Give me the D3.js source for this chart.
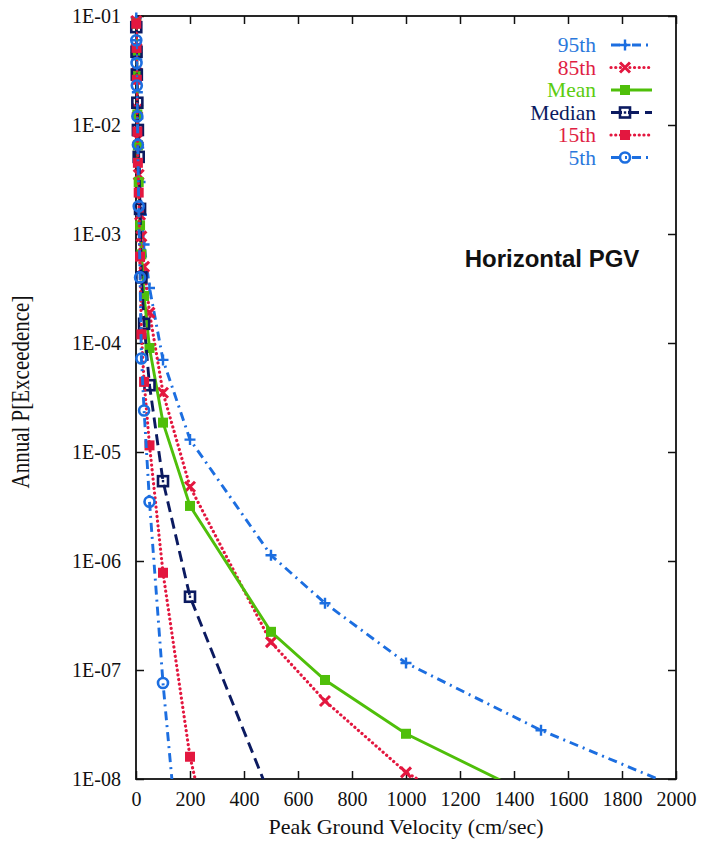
<!DOCTYPE html>
<html>
<head>
<meta charset="utf-8">
<script src="https://cdn.jsdelivr.net/npm/d3@7"></script>
<style>
  body { margin: 0; background: #fff; }
  svg { display: block; }
  .tick text { font-family: "Liberation Serif", "DejaVu Serif", serif; font-size: 20px; fill: #111; }
  .tick line { stroke: #111; stroke-width: 1.5; }
</style>
</head>
<body>
<div id="CHART"></div>
<script>
// PGV values (cm/sec) shared by every curve
const pgv = [1, 2, 3, 5, 7, 10, 15, 20, 30, 50, 100, 200, 500, 700, 1000, 1500, 2000];

// annual probability of exceedance
const p95    = [9.6e-2, 6.0e-2, 4.0e-2, 2.0e-2, 1.15e-2, 6.2e-3, 3.0e-3, 1.5e-3, 8.0e-4, 3.2e-4, 7.0e-5, 1.3e-5, 1.13e-6, 4.1e-7, 1.16e-7, 2.8e-8, 8.5e-9];
const p85    = [9.0e-2, 5.0e-2, 3.0e-2, 1.4e-2, 7.5e-3, 3.5e-3, 1.5e-3, 9.5e-4, 5.0e-4, 1.9e-4, 3.5e-5, 4.8e-6, 1.8e-7, 5.2e-8, 1.15e-8, 2.2e-9, 6.0e-10];
const pMean  = [8.5e-2, 4.8e-2, 2.8e-2, 1.25e-2, 6.5e-3, 3.0e-3, 1.2e-3, 6.5e-4, 2.7e-4, 9.0e-5, 1.86e-5, 3.2e-6, 2.24e-7, 8.1e-8, 2.6e-8, 6.4e-9, 2.5e-9];
const pMed   = [7.9e-2, 4.7e-2, 2.9e-2, 1.6e-2, 9.0e-3, 5.1e-3, 1.7e-3, 4.0e-4, 1.5e-4, 4.1e-5, 5.4e-6, 4.7e-7, 6.6e-9, 3.0e-10, 1.0e-11, 1.0e-12, 1.0e-13];
const p15    = [8.5e-2, 5.1e-2, 2.6e-2, 8.7e-3, 4.5e-3, 2.4e-3, 6.2e-4, 1.2e-4, 4.4e-5, 1.15e-5, 7.8e-7, 1.6e-8, 1.0e-11, 1.0e-12, 1.0e-13, 1.0e-14, 1.0e-15];
const p5     = [6.0e-2, 3.7e-2, 2.3e-2, 1.2e-2, 6.6e-3, 1.8e-3, 4.0e-4, 7.2e-5, 2.4e-5, 3.5e-6, 7.6e-8, 1.6e-10, 1.0e-13, 1.0e-14, 1.0e-15, 1.0e-16, 1.0e-17];

const seriesNames = ["95th", "85th", "Mean", "Median", "15th", "5th"];
const seriesVals  = [p95, p85, pMean, pMed, p15, p5];

const xTicks = [0, 200, 400, 600, 800, 1000, 1200, 1400, 1600, 1800, 2000];
const yTicks = [1e-8, 1e-7, 1e-6, 1e-5, 1e-4, 1e-3, 1e-2, 1e-1];

const styles = {
  "95th":   { color: "#1c6ee0", text: "#2a78dc", dash: "9,5,2,5", mark: "plus" },
  "85th":   { color: "#e3173f", text: "#e01e44", dash: "0.1,4.6", mark: "cross", cap: "round" },
  "Mean":   { color: "#4fbf0a", text: "#5ccc10", dash: null,      mark: "fsquare" },
  "Median": { color: "#0b1a60", text: "#0b1a60", dash: "11,6",    mark: "osquare" },
  "15th":   { color: "#e3173f", text: "#e01e44", dash: "0.1,4.6", mark: "fsquare", cap: "round" },
  "5th":    { color: "#1c6ee0", text: "#2a78dc", dash: "9,5,2,5", mark: "ocircle" }
};

const W = 702, H = 842;
const plot = { left: 136, right: 676, top: 16, bottom: 779 };

const svg = d3.select("#CHART").append("svg").attr("width", W).attr("height", H);

const x = d3.scaleLinear().domain([0, 2000]).range([plot.left, plot.right]);
const y = d3.scaleLog().domain([1e-8, 1e-1]).range([plot.bottom, plot.top]);

const fmtE = d => "1E-" + String(-Math.round(Math.log10(d))).padStart(2, "0");

// axes, ticks pointing inward
svg.append("g").attr("transform", `translate(0,${plot.bottom})`)
  .call(d3.axisBottom(x).tickValues(xTicks).tickSizeInner(-8).tickSizeOuter(0).tickPadding(13).tickFormat(d3.format("d")));
svg.append("g").attr("transform", `translate(0,${plot.top})`)
  .call(d3.axisTop(x).tickValues(xTicks).tickSizeInner(-8).tickSizeOuter(0).tickFormat(""));
svg.append("g").attr("transform", `translate(${plot.left},0)`)
  .call(d3.axisLeft(y).tickValues(yTicks).tickSizeInner(-8).tickSizeOuter(0).tickPadding(15).tickFormat(fmtE));
svg.append("g").attr("transform", `translate(${plot.right},0)`)
  .call(d3.axisRight(y).tickValues(yTicks).tickSizeInner(-8).tickSizeOuter(0).tickFormat(""));
svg.selectAll(".domain").remove();

svg.append("rect")
  .attr("x", plot.left).attr("y", plot.top)
  .attr("width", plot.right - plot.left).attr("height", plot.bottom - plot.top)
  .attr("fill", "none").attr("stroke", "#111").attr("stroke-width", 1.8);

// axis titles
svg.append("text")
  .attr("x", 406).attr("y", 834)
  .attr("text-anchor", "middle")
  .style("font-family", "Liberation Serif, serif").style("font-size", "22px").style("fill", "#111")
  .text("Peak Ground Velocity (cm/sec)");
svg.append("text")
  .attr("transform", "translate(29,392) rotate(-90) scale(1,1.15)")
  .attr("text-anchor", "middle")
  .style("font-family", "Liberation Serif, serif").style("font-size", "21px").style("fill", "#111")
  .text("Annual P[Exceedence]");

svg.append("text")
  .attr("x", 552).attr("y", 267)
  .attr("text-anchor", "middle")
  .style("font-family", "Liberation Sans, Arial, sans-serif").style("font-weight", "bold")
  .style("font-size", "24px").style("fill", "#111")
  .text("Horizontal PGV");

svg.append("clipPath").attr("id", "clip")
  .append("rect")
  .attr("x", plot.left).attr("y", plot.top)
  .attr("width", plot.right - plot.left).attr("height", plot.bottom - plot.top);

function drawMarker(g, kind, color, cx, cy) {
  if (kind == "plus") {
    g.append("path").attr("d", `M${cx-5.5},${cy}H${cx+5.5}M${cx},${cy-5.5}V${cy+5.5}`)
      .attr("stroke", color).attr("stroke-width", 2.4).attr("fill", "none");
  } else if (kind == "cross") {
    g.append("path").attr("d", `M${cx-5},${cy-5}L${cx+5},${cy+5}M${cx-5},${cy+5}L${cx+5},${cy-5}`)
      .attr("stroke", color).attr("stroke-width", 3).attr("fill", "none");
  } else if (kind == "fsquare") {
    g.append("rect").attr("x", cx-5).attr("y", cy-5).attr("width", 10).attr("height", 10).attr("fill", color);
  } else if (kind == "osquare") {
    g.append("rect").attr("x", cx-5).attr("y", cy-5).attr("width", 10).attr("height", 10)
      .attr("fill", "none").attr("stroke", color).attr("stroke-width", 2.6);
    g.append("rect").attr("x", cx-1.2).attr("y", cy-1.2).attr("width", 2.4).attr("height", 2.4).attr("fill", color);
  } else if (kind == "ocircle") {
    g.append("circle").attr("cx", cx).attr("cy", cy).attr("r", 5)
      .attr("fill", "none").attr("stroke", color).attr("stroke-width", 2.6);
  }
}

const line = d3.line().x(d => x(d[0])).y(d => y(Math.max(d[1], 1e-20)));

seriesNames.forEach((name, i) => {
  const st = styles[name];
  const pts = pgv.map((v, j) => [v, seriesVals[i][j]]);
  const g = svg.append("g");
  g.append("path")
    .attr("d", line(pts))
    .attr("clip-path", "url(#clip)")
    .attr("fill", "none")
    .attr("stroke", st.color)
    .attr("stroke-width", st.cap ? 3.2 : 2.9)
    .attr("stroke-linecap", st.cap || "butt")
    .attr("stroke-dasharray", st.dash);
  pts.filter(d => d[1] >= 1e-8 && d[1] <= 1e-1)
    .forEach(d => drawMarker(g, st.mark, st.color, x(d[0]), y(d[1])));
});

// legend
const leg = svg.append("g");
seriesNames.forEach((name, i) => {
  const st = styles[name];
  const ly = 45 + i * 22.5;
  leg.append("text")
    .attr("x", 596).attr("y", ly + 7)
    .attr("text-anchor", "end")
    .style("font-family", "Liberation Serif, serif").style("font-size", "21.5px")
    .style("fill", st.text)
    .text(name);
  leg.append("line")
    .attr("x1", 611).attr("x2", 652).attr("y1", ly).attr("y2", ly)
    .attr("stroke", st.color)
    .attr("stroke-width", st.cap ? 3.2 : 2.9)
    .attr("stroke-linecap", st.cap || "butt")
    .attr("stroke-dasharray", st.dash);
  drawMarker(leg, st.mark, st.color, 625, ly);
});
</script>
</body>
</html>
